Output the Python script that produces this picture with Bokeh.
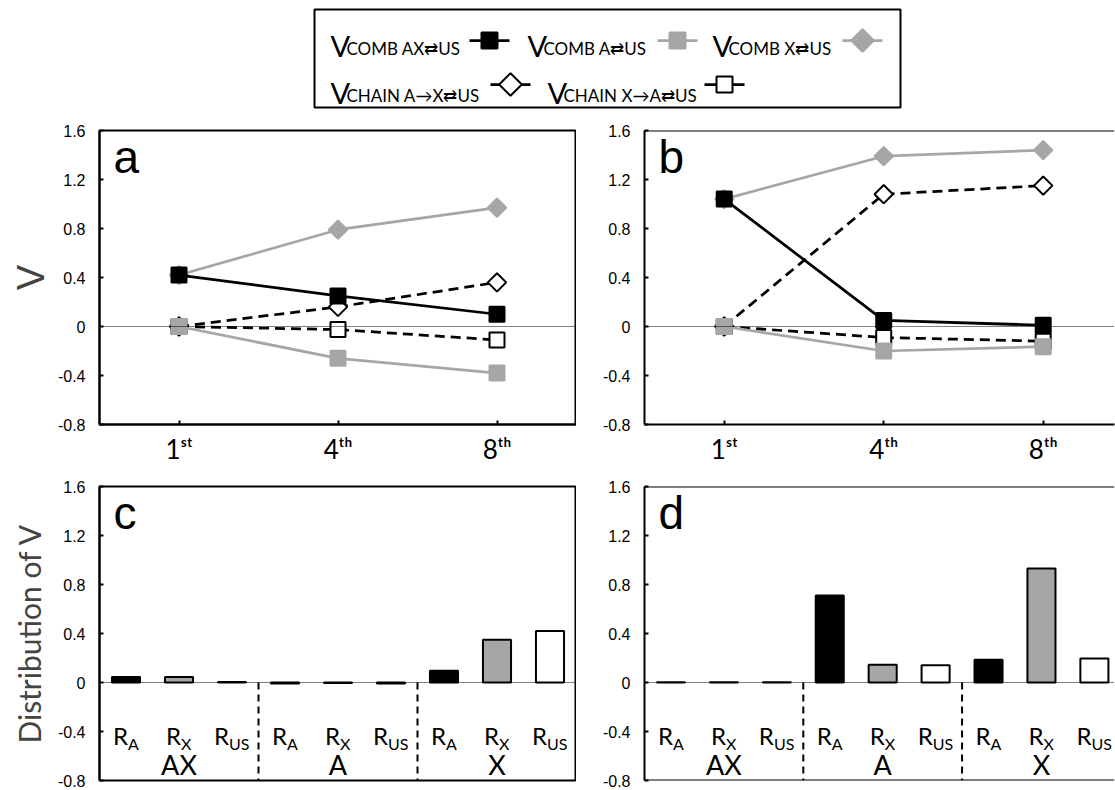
import numpy as np
from bokeh.plotting import figure
from bokeh.layouts import column, row
from bokeh.models import Range1d, Span, FixedTicker, BoxAnnotation
from bokeh.core.properties import value
from bokeh.embed import file_html
from bokeh.resources import INLINE

# ---------------- data ----------------
sessions = ["1", "4", "8"]
session_sup = ["st", "th", "th"]

legend_main = "V"
series_sub = ["COMB AX⇄US", "COMB A⇄US", "COMB X⇄US", "CHAIN A→X⇄US", "CHAIN X→A⇄US"]

# panel a
a_comb_ax = [0.42, 0.25, 0.10]
a_comb_a = [0.0, -0.26, -0.38]
a_comb_x = [0.42, 0.79, 0.97]
a_chain_ax = [0.0, 0.16, 0.36]
a_chain_xa = [0.0, -0.025, -0.11]
# panel b
b_comb_ax = [1.04, 0.05, 0.01]
b_comb_a = [0.0, -0.20, -0.165]
b_comb_x = [1.04, 1.39, 1.44]
b_chain_ax = [0.0, 1.08, 1.15]
b_chain_xa = [0.0, -0.09, -0.12]

groups = ["AX", "A", "X"]
responses = ["A", "X", "US"]
c_values = [0.045, 0.045, 0.005, -0.008, -0.005, -0.008, 0.095, 0.35, 0.42]
d_values = [0.003, 0.003, 0.003, 0.71, 0.145, 0.14, 0.185, 0.93, 0.195]

y_ticks = [-0.8, -0.4, 0, 0.4, 0.8, 1.2, 1.6]
y_tick_labels = ["-0.8", "-0.4", "0", "0.4", "0.8", "1.2", "1.6"]

# ---------------- style ----------------
GRAY = "#a6a6a6"
CAL = "Lato"
ARI = "Liberation Sans"
FRAME_H = 294
DASH = "10 6"
SUP = {"s": "\u02e2", "t": "\u1d57", "h": "\u02b0"}
styles = [
    dict(color="black", fill="black", marker="square", dash="solid"),
    dict(color=GRAY, fill=GRAY, marker="square", dash="solid"),
    dict(color=GRAY, fill=GRAY, marker="diamond", dash="solid"),
    dict(color="black", fill="white", marker="diamond", dash=DASH),
    dict(color="black", fill="white", marker="square", dash=DASH),
]
draw_order = [2, 3, 4, 1, 0]


def base_fig(frame_w, x_range, left, right, top, bottom, outline=True):
    p = figure(frame_width=frame_w, frame_height=FRAME_H, x_range=x_range,
               y_range=Range1d(y_ticks[0], y_ticks[-1]),
               output_backend="svg", toolbar_location=None,
               min_border_left=left, min_border_right=right,
               min_border_top=top, min_border_bottom=bottom)
    p.grid.visible = False
    p.background_fill_color = "white"
    p.border_fill_color = "white"
    if outline:
        p.outline_line_color = "black"
        p.outline_line_width = 2
        p.outline_line_alpha = 1
    else:
        p.outline_line_color = None
        p.add_layout(Span(location=y_ticks[-1], dimension="width", line_color="black", line_width=2))
    ya = p.yaxis[0]
    ya.ticker = FixedTicker(ticks=y_ticks)
    ya.major_label_overrides = {t: l for t, l in zip(y_ticks, y_tick_labels)}
    ya.major_label_text_font = ARI
    ya.major_label_text_font_size = "16px"
    ya.major_label_text_color = "black"
    ya.major_tick_in = 4
    ya.major_tick_out = 0
    ya.major_tick_line_width = 2
    ya.major_tick_line_color = "black"
    ya.minor_tick_line_color = None
    ya.axis_line_width = 2
    ya.axis_line_color = "black"
    ya.major_label_standoff = 14
    p.add_layout(Span(location=0, dimension="width", line_color="black",
                      line_width=1, line_dash="1 1"))
    return p


def panel_letter(p, letter):
    p.text(x=[p.x_range.start], y=[p.y_range.end], text=[letter],
           x_offset=14, y_offset=26, text_font=value(ARI), text_font_size="46px",
           text_baseline="alphabetic", text_align="left", text_color="black")


def line_panel(series, x_end, left, right, letter, ylabel=None, outline=True):
    p = base_fig(477 if outline else 470, Range1d(0, x_end), left, right, 10, 54, outline)
    xs = [i + 0.5 for i in range(len(sessions))]
    for k in draw_order:
        st = styles[k]
        p.line(xs, series[k], line_color=st["color"], line_width=2.75, line_dash=st["dash"])
        if st["marker"] == "square":
            p.scatter(xs, series[k], marker="square", size=15, fill_color=st["fill"],
                      line_color=st["color"], line_width=2)
        else:
            p.scatter(xs, series[k], marker="square", size=13, angle=np.pi / 4,
                      fill_color=st["fill"], line_color=st["color"], line_width=2)
    xa = p.xaxis[0]
    xa.ticker = FixedTicker(ticks=xs)
    xa.major_label_overrides = {
        x: n + "".join(SUP[c] for c in s) for x, n, s in zip(xs, sessions, session_sup)
    }
    xa.major_label_text_font = "Lato, 'Noto Sans', sans-serif"
    xa.major_label_text_font_size = "26px"
    xa.major_label_text_color = "black"
    xa.major_label_standoff = 8
    xa.major_tick_in = 4
    xa.major_tick_out = 0
    xa.major_tick_line_width = 2
    xa.major_tick_line_color = "black"
    xa.minor_tick_line_color = None
    xa.axis_line_width = 2
    xa.axis_line_color = "black"
    if ylabel:
        p.yaxis.axis_label = ylabel
        p.yaxis.axis_label_text_font = ARI
        p.yaxis.axis_label_text_font_size = "38px"
        p.yaxis.axis_label_text_font_style = "normal"
        p.yaxis.axis_label_standoff = 3
    panel_letter(p, letter)
    return p


def bar_panel(vals, x_end, left, right, letter, ylabel=None, outline=True):
    p = base_fig(477 if outline else 470, Range1d(0.5, x_end), left, right, 8, 10, outline)
    n = len(groups) * len(responses)
    xs = list(range(1, n + 1))
    fills = ["black", GRAY, "white"] * len(groups)
    p.vbar(x=xs, top=vals, bottom=0, width=0.53, fill_color=fills,
           line_color="black", line_width=2)
    p.xaxis.visible = False
    if not outline:
        p.add_layout(Span(location=y_ticks[0], dimension="width", line_color="black", line_width=2))
    # group dividers
    div_x = [len(responses) * (g + 1) + 0.5 for g in range(len(groups) - 1)]
    p.segment(x0=div_x, y0=[0] * len(div_x), x1=div_x, y1=[y_ticks[0]] * len(div_x),
              line_color="black", line_width=2, line_dash="7 5")
    # R labels
    subs = responses * len(groups)
    r_w = 14.0
    sub_w = [0.62 * 16 * len(s) for s in subs]
    off = [(r_w - w) / 2 for w in sub_w]
    p.text(x=xs, y=[y_ticks[0]] * n, text=["R"] * n, x_offset=off, y_offset=-45,
           text_align="right", text_baseline="alphabetic",
           text_font=value(CAL), text_font_size="24px", text_color="black")
    p.text(x=xs, y=[y_ticks[0]] * n, text=subs, x_offset=off, y_offset=-37,
           text_align="left", text_baseline="alphabetic",
           text_font=value(CAL), text_font_size="16px", text_color="black")
    gx = [len(responses) * g + (len(responses) + 1) / 2 for g in range(len(groups))]
    p.text(x=gx, y=[y_ticks[0]] * len(groups), text=groups, y_offset=0,
           text_align="center", text_baseline="bottom",
           text_font=value(CAL), text_font_size="27px", text_color="black")
    if ylabel:
        p.yaxis.axis_label = ylabel
        p.yaxis.axis_label_text_font = CAL
        p.yaxis.axis_label_text_font_size = "30px"
        p.yaxis.axis_label_text_font_style = "normal"
        p.yaxis.axis_label_standoff = 8
    panel_letter(p, letter)
    return p


series_a = [a_comb_ax, a_comb_a, a_comb_x, a_chain_ax, a_chain_xa]
series_b = [b_comb_ax, b_comb_a, b_comb_x, b_chain_ax, b_chain_xa]

pa = line_panel(series_a, 3.0, 99, 0, "a", ylabel="V", outline=True)
pb = line_panel(series_b, 2.947, 68, 1, "b", outline=False)
pc = bar_panel(c_values, 9.5, 99, 0, "c", ylabel="Distribution of V", outline=True)
pd_ = bar_panel(d_values, 9.38, 68, 1, "d", outline=False)

# ---------------- legend ----------------
leg = figure(width=1115, height=120, x_range=Range1d(0, 1115), y_range=Range1d(120, 0),
             output_backend="svg", toolbar_location=None, min_border=0)
leg.axis.visible = False
leg.grid.visible = False
leg.outline_line_color = None
leg.add_layout(BoxAnnotation(left=314, right=900, top=9, bottom=107, fill_color=None,
                             line_color="black", line_width=2, line_alpha=1))
leg_x = [330, 527, 712, 330, 547]
leg_base = [45, 45, 45, 92, 92]
leg_cx = [489, 677, 862, 510, 724]
leg_my = [40, 40, 40, 84, 84]
leg.text(x=leg_x, y=leg_base, text=[legend_main] * len(series_sub), text_font=value(CAL),
         text_font_size="29px", text_baseline="alphabetic", text_color="black")
leg.text(x=[v + 16 for v in leg_x], y=[v + 3 for v in leg_base], text=series_sub,
         text_font=value(CAL), text_font_size="17px", text_baseline="alphabetic", text_color="black")
for k, st in enumerate(styles):
    leg.line([leg_cx[k] - 20, leg_cx[k] + 20], [leg_my[k]] * 2, line_color=st["color"], line_width=2.75)
    if st["marker"] == "square":
        leg.scatter([leg_cx[k]], [leg_my[k]], marker="square", size=16, fill_color=st["fill"],
                    line_color=st["color"], line_width=2)
    else:
        leg.scatter([leg_cx[k]], [leg_my[k]], marker="square", size=16, angle=np.pi / 4,
                    fill_color=st["fill"], line_color=st["color"], line_width=2)

layout = column(leg, row(pa, pb), row(pc, pd_))
open("out.html", "w").write(file_html(layout, INLINE))
